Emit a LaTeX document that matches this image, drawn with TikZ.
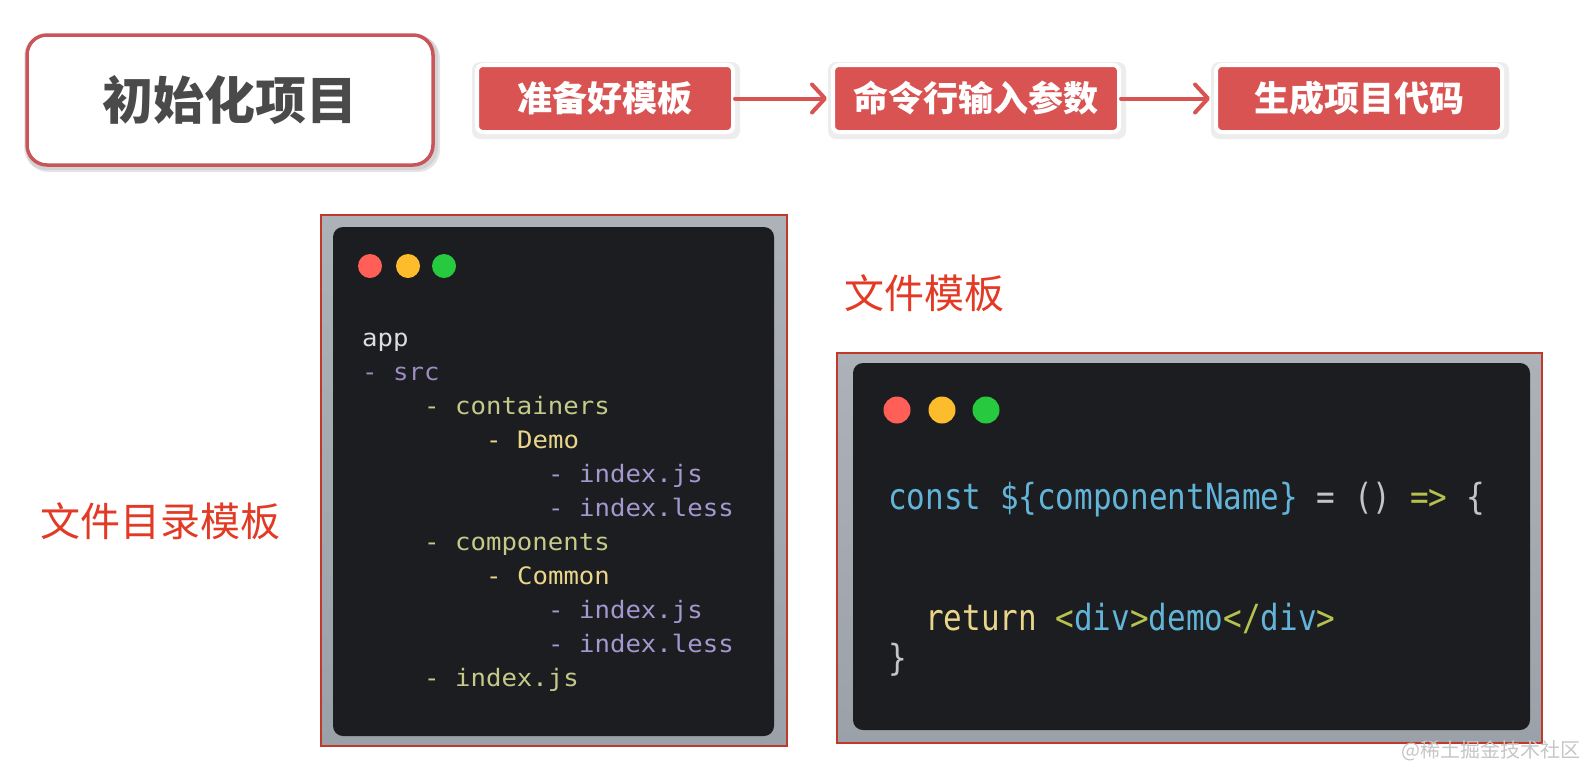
\documentclass[tikz,border=0pt]{standalone}
\usepackage{fontspec}
\usetikzlibrary{arrows.meta}
\newfontfamily\cjk{Noto Sans CJK SC}
\newfontfamily\monoa{DejaVu Sans Mono}[FakeStretch=1.07]
\newfontfamily\monob{DejaVu Sans Mono}[FakeStretch=0.86]
\definecolor{titlegray}{HTML}{4A4A4A}
\definecolor{stepred}{HTML}{D95352}
\definecolor{titlered}{HTML}{C9555A}
\definecolor{labelred}{HTML}{E23A24}
\definecolor{panel}{HTML}{1B1D20}
\definecolor{framered}{HTML}{C0392B}
\definecolor{frametop}{HTML}{ADB2B8}
\definecolor{framebot}{HTML}{9BA1A8}
\definecolor{lightred}{HTML}{FF5F56}
\definecolor{lightyellow}{HTML}{FDBC2C}
\definecolor{lightgreen}{HTML}{27C93F}
\definecolor{cwhite}{HTML}{DDDDDD}
\definecolor{cpurple}{HTML}{9B8BC0}
\definecolor{ckhaki}{HTML}{C5CA8A}
\definecolor{cyellow}{HTML}{EBD58A}
\definecolor{clav}{HTML}{A597CF}
\definecolor{cblue}{HTML}{62B4D8}
\definecolor{cgray}{HTML}{C4C4C4}
\definecolor{cgreen}{HTML}{B7C24E}
\definecolor{wmgray}{HTML}{C6C6C6}
\tikzset{
  stepbox/.style={fill=stepred, draw=white, line width=4pt, rounded corners=6pt,
    minimum height=67pt, text=white, font=\cjk\bfseries\fontsize{35}{40}\selectfont, inner sep=0pt},
  flow/.style={draw=stepred, line width=4pt, line cap=round,
    -{Straight Barb[length=13pt,width=28pt,round]}, shorten >=4pt},
  sidelabel/.style={text=labelred, font=\cjk\fontsize{40}{46}\selectfont, inner sep=0pt},
  codea/.style={anchor=base west, inner sep=0pt, font=\monoa\fontsize{24}{28}\selectfont},
  codeb/.style={anchor=base west, inner sep=0pt, font=\monob\fontsize{36}{40}\selectfont},
  frame/.style={draw=framered, line width=1.5pt, top color=frametop, bottom color=framebot},
  darkpanel/.style={fill=panel, rounded corners=10pt}
}
\begin{document}
\begin{tikzpicture}[x=1pt,y=-1pt]
\useasboundingbox (0,0) rectangle (1586,766);
\fill[white] (0,0) rectangle (1586,766);

% title box
\fill[black, opacity=0.10, rounded corners=22pt] (26,36) rectangle (440,172);
\fill[black, opacity=0.08, rounded corners=22pt] (24,34) rectangle (438,170);
\node[draw=titlered, line width=3.5pt, fill=white, rounded corners=20pt,
  minimum width=406pt, minimum height=130pt, inner sep=0pt,
  text=titlegray, font=\cjk\bfseries\fontsize{51}{56}\selectfont] (title) at (230,100) {初始化项目};

% step boxes
\fill[black, opacity=0.07, rounded corners=8pt] (472,62) rectangle (740,139);
\fill[black, opacity=0.07, rounded corners=8pt] (828,62) rectangle (1126,139);
\fill[black, opacity=0.07, rounded corners=8pt] (1211,62) rectangle (1509,139);
\node[stepbox, minimum width=256pt] (s1) at (605,98.5) {准备好模板};
\node[stepbox, minimum width=286pt] (s2) at (976,98.5) {命令行输入参数};
\node[stepbox, minimum width=286pt] (s3) at (1359,98.5) {生成项目代码};
\draw[flow] (s1.east) -- (s2.west);
\draw[flow] (s2.east) -- (s3.west);

% labels
\node[sidelabel] (lbl1) at (160,521) {文件目录模板};
\node[sidelabel] (lbl2) at (924,293) {文件模板};

% left code panel
\path[frame] (321,215) rectangle (787,746);
\path[darkpanel] (333,227) rectangle (774,736);
\fill[lightred] (370,266) circle (12pt);
\fill[lightyellow] (408,266) circle (12pt);
\fill[lightgreen] (444,266) circle (12pt);
\node[codea, text=cwhite] (l1) at (362,346) {app};
\node[codea, text=cpurple] (l2) at (362,380) {- src};
\node[codea, text=ckhaki] (l3) at (424,414) {- containers};
\node[codea, text=cyellow] (l4) at (486,448) {- Demo};
\node[codea, text=clav] (l5) at (548,482) {- index.js};
\node[codea, text=clav] (l6) at (548,516) {- index.less};
\node[codea, text=ckhaki] (l7) at (424,550) {- components};
\node[codea, text=cyellow] (l8) at (486,584) {- Common};
\node[codea, text=clav] (l9) at (548,618) {- index.js};
\node[codea, text=clav] (l10) at (548,652) {- index.less};
\node[codea, text=ckhaki] (l11) at (424,686) {- index.js};

% right code panel
\path[frame] (837,353) rectangle (1542,743);
\path[darkpanel] (853,363) rectangle (1530,730);
\fill[lightred] (897,410) circle (13.5pt);
\fill[lightyellow] (942,410) circle (13.5pt);
\fill[lightgreen] (986,410) circle (13.5pt);
\node[codeb] (r1) at (888,509) {\textcolor{cblue}{const \$\{componentName\}} \textcolor{cgray}{= ()} \textcolor{cgreen}{=>} \textcolor{cgray}{\{}};
\node[codeb] (r2) at (925,630) {\textcolor{cyellow}{return} \textcolor{cgreen}{<}\textcolor{cblue}{div}\textcolor{cgreen}{>}\textcolor{cblue}{demo}\textcolor{cgreen}{</}\textcolor{cblue}{div}\textcolor{cgreen}{>}};
\node[codeb, text=cgray] (r3) at (888,670) {\}};

% watermark
\node[anchor=base east, inner sep=0pt, text=wmgray, font=\cjk\fontsize{20}{24}\selectfont] (wm) at (1581,757) {@稀土掘金技术社区};
\end{tikzpicture}
\end{document}
